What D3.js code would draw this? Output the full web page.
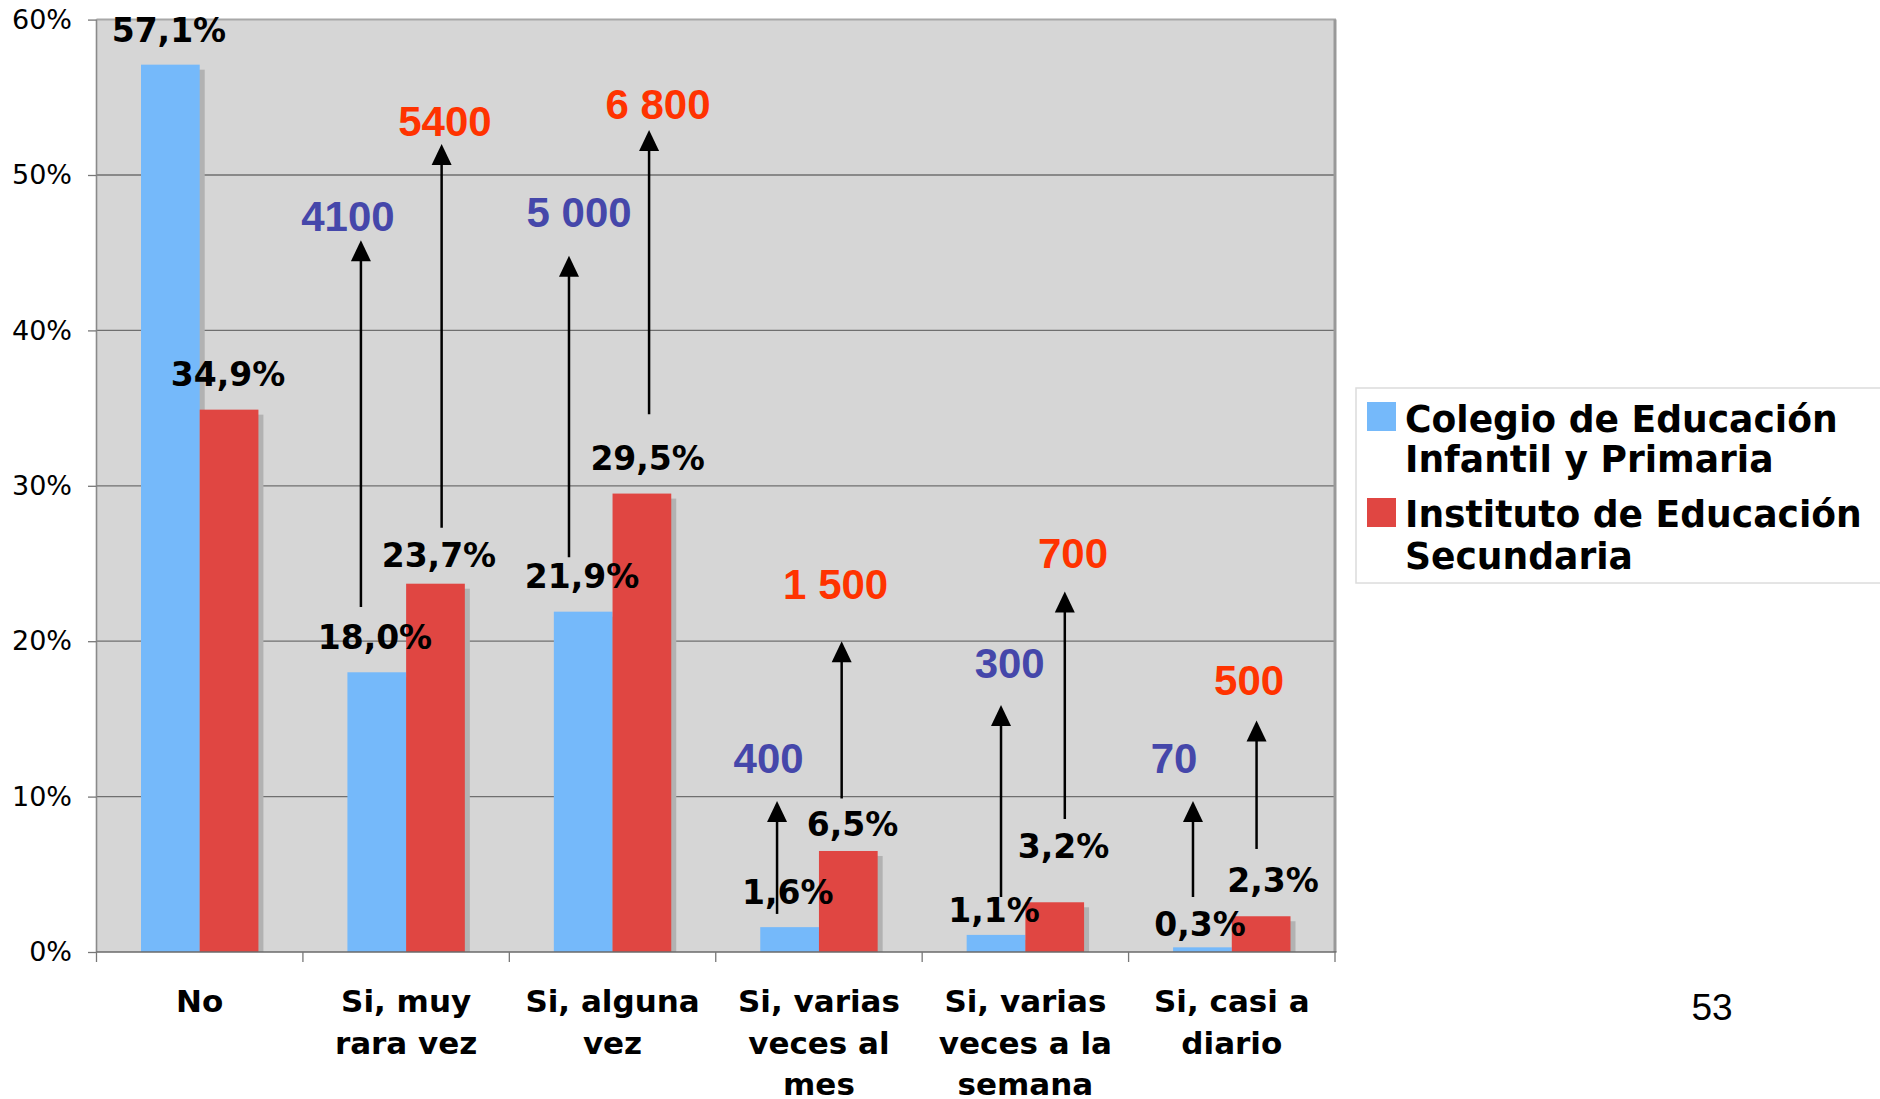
<!DOCTYPE html>
<html>
<head>
<meta charset="utf-8">
<script src="https://cdn.jsdelivr.net/npm/d3@7"></script>
<style>
  html, body { margin: 0; padding: 0; background: #ffffff; }
  svg { display: block; }
</style>
</head>
<body>
<svg id="chart" width="1880" height="1099"></svg>
<script>
// ---------------- DATA ----------------
const categories = [
  ["No"],
  ["Si, muy", "rara vez"],
  ["Si, alguna", "vez"],
  ["Si, varias", "veces al", "mes"],
  ["Si, varias", "veces a la", "semana"],
  ["Si, casi a", "diario"]
];
const seriesNames = [
  ["Colegio de Educación", "Infantil y Primaria"],
  ["Instituto de Educación", "Secundaria"]
];
const colegio   = [57.1, 18.0, 21.9, 1.6, 1.1, 0.3];
const instituto = [34.9, 23.7, 29.5, 6.5, 3.2, 2.3];
const colegioText   = ["57,1%", "18,0%", "21,9%", "1,6%", "1,1%", "0,3%"];
const institutoText = ["34,9%", "23,7%", "29,5%", "6,5%", "3,2%", "2,3%"];
const yTicks = [0, 10, 20, 30, 40, 50, 60];
const yTickLabels = ["0%", "10%", "20%", "30%", "40%", "50%", "60%"];

// Annotation counts (estimated pupils), per category
const colegioCounts   = ["", "4100", "5 000", "400", "300", "70"];
const institutoCounts = ["", "5400", "6 800", "1 500", "700", "500"];

// Annotation anchors in data units: [category index + fraction of band, value in %]
const colegioLabelAt   = [[0.351, 58.56], [1.349, 19.5], [2.352, 23.42], [3.349, 3.09], [4.348, 1.93], [5.346, 1.03]];
const institutoLabelAt = [[0.637, 36.42], [1.659, 24.77], [2.670, 31.02], [3.663, 7.46], [4.685, 6.05], [5.700, 3.86]];
// arrows: [x (category units), from %, to %]
const colegioArrows   = [null, [1.281, 22.2, 45.8], [2.289, 25.4, 44.8], [3.297, 2.45, 9.72], [4.382, 3.54, 15.9], [5.312, 3.54, 9.72]];
const institutoArrows = [null, [1.672, 27.3, 52.0], [2.677, 34.6, 52.9], [3.610, 9.88, 20.0], [4.691, 8.56, 23.2], [5.620, 6.63, 14.9]];
// count label centers: [x (category units), y %]
const colegioCountAt   = [null, [1.218, 47.4], [2.338, 47.6], [3.256, 12.5], [4.424, 18.6], [5.220, 12.5]];
const institutoCountAt = [null, [1.688, 53.5], [2.720, 54.6], [3.581, 23.7], [4.731, 25.7], [5.584, 17.5]];
const pageNumber = "53";

// ---------------- LAYOUT ----------------
const plot = { left: 96.5, right: 1335, top: 19.6, bottom: 952 };
const colors = { colegio: "#75b9fa", instituto: "#e04642", bg: "#d6d6d6", shadow: "#b2b2b2",
                 blueText: "#4547aa", redText: "#ff3300" };

const svg = d3.select("#chart");

const x = d3.scaleBand()
  .domain(d3.range(categories.length))
  .range([plot.left, plot.right])
  .paddingInner(0).paddingOuter(0);
const xSub = d3.scaleBand()
  .domain([0, 1])
  .range([0, x.bandwidth()])
  .paddingInner(0).paddingOuter(0.758);
const y = d3.scaleLinear().domain([0, 60]).range([plot.bottom, plot.top]);
// continuous x in category units
const xc = d3.scaleLinear().domain([0, categories.length]).range([plot.left, plot.right]);

// background
svg.append("rect")
  .attr("x", plot.left).attr("y", plot.top)
  .attr("width", plot.right - plot.left).attr("height", plot.bottom - plot.top)
  .attr("fill", colors.bg);

// gridlines
svg.append("g").selectAll("line").data(yTicks.filter(t => t > 0 && t < 60)).join("line")
  .attr("x1", plot.left).attr("x2", plot.right)
  .attr("y1", d => y(d)).attr("y2", d => y(d))
  .attr("stroke", "#6f6f6f").attr("stroke-width", 1.3);

// frame (top, right lighter; left darker)
svg.append("line").attr("x1", plot.left).attr("x2", plot.right + 1).attr("y1", plot.top).attr("y2", plot.top)
  .attr("stroke", "#a8a8a8").attr("stroke-width", 2);
svg.append("line").attr("x1", plot.right).attr("x2", plot.right).attr("y1", plot.top).attr("y2", plot.bottom)
  .attr("stroke", "#999999").attr("stroke-width", 3);
svg.append("line").attr("x1", plot.left).attr("x2", plot.left).attr("y1", plot.top).attr("y2", plot.bottom)
  .attr("stroke", "#8a8a8a").attr("stroke-width", 1.6);

const series = [
  { key: "colegio", values: colegio, color: colors.colegio, text: colegioText, labelAt: colegioLabelAt },
  { key: "instituto", values: instituto, color: colors.instituto, text: institutoText, labelAt: institutoLabelAt }
];

// shadows
series.forEach((s, si) => {
  svg.append("g").selectAll("rect").data(s.values).join("rect")
    .attr("x", (d, i) => x(i) + xSub(si) + 5)
    .attr("y", d => y(d) + 5)
    .attr("width", xSub.bandwidth())
    .attr("height", d => Math.max(0, plot.bottom - y(d) - 5))
    .attr("fill", colors.shadow);
});
// bars
series.forEach((s, si) => {
  svg.append("g").selectAll("rect").data(s.values).join("rect")
    .attr("x", (d, i) => x(i) + xSub(si))
    .attr("y", d => y(d))
    .attr("width", xSub.bandwidth())
    .attr("height", d => plot.bottom - y(d))
    .attr("fill", s.color);
});

// y axis
const yAxis = d3.axisLeft(y).tickValues(yTicks).tickFormat((d, i) => yTickLabels[i]).tickSize(8.5).tickPadding(16);
const gy = svg.append("g").attr("transform", `translate(${plot.left},0)`).call(yAxis);
gy.select(".domain").remove();
gy.selectAll(".tick line").attr("stroke", "#777").attr("stroke-width", 1.3);
gy.selectAll(".tick text").attr("font-family", "'DejaVu Sans', Verdana, sans-serif")
  .attr("font-size", 27).attr("fill", "#000");

// x axis line + ticks at boundaries
svg.append("line").attr("x1", plot.left).attr("x2", plot.right + 1.5).attr("y1", plot.bottom).attr("y2", plot.bottom)
  .attr("stroke", "#6a6a6a").attr("stroke-width", 1.6);
svg.append("g").selectAll("line").data(d3.range(categories.length + 1)).join("line")
  .attr("x1", d => xc(d)).attr("x2", d => xc(d))
  .attr("y1", plot.bottom).attr("y2", plot.bottom + 10)
  .attr("stroke", "#777").attr("stroke-width", 1.3);

// category labels
const catG = svg.append("g");
categories.forEach((lines, i) => {
  const cx = x(i) + x.bandwidth() / 2;
  lines.forEach((ln, li) => {
    catG.append("text").attr("x", cx).attr("y", 1012 + li * 41.5)
      .attr("text-anchor", "middle")
      .attr("font-family", "'DejaVu Sans', Verdana, sans-serif")
      .attr("font-weight", "bold").attr("font-size", 31)
      .attr("fill", "#000").text(ln);
  });
});

// percentage labels
series.forEach(s => {
  svg.append("g").selectAll("text").data(s.text).join("text")
    .attr("x", (d, i) => xc(s.labelAt[i][0]))
    .attr("y", (d, i) => y(s.labelAt[i][1]))
    .attr("text-anchor", "middle")
    .attr("font-family", "'DejaVu Sans', Verdana, sans-serif")
    .attr("font-weight", "bold").attr("font-size", 33)
    .attr("fill", "#000").text(d => d);
});

// arrows
const arrowG = svg.append("g");
function drawArrow(a) {
  if (!a) return;
  const ax = xc(a[0]), y0 = y(a[1]), y1 = y(a[2]);
  arrowG.append("line").attr("x1", ax).attr("x2", ax).attr("y1", y0).attr("y2", y1 + 18)
    .attr("stroke", "#000").attr("stroke-width", 2.5);
  arrowG.append("path")
    .attr("d", `M${ax},${y1} L${ax - 10},${y1 + 21} L${ax + 10},${y1 + 21} Z`)
    .attr("fill", "#000");
}
colegioArrows.forEach(drawArrow);
institutoArrows.forEach(drawArrow);

// count labels
function drawCounts(texts, at, color) {
  svg.append("g").selectAll("text").data(texts).join("text")
    .attr("x", (d, i) => xc(at[i + 1][0]))
    .attr("y", (d, i) => y(at[i + 1][1]))
    .attr("dy", "0.36em")
    .attr("text-anchor", "middle")
    .attr("font-family", "'Liberation Sans', Arial, sans-serif")
    .attr("font-weight", "bold").attr("font-size", 42)
    .attr("fill", color).text(d => d);
}
drawCounts(colegioCounts.slice(1), colegioCountAt, colors.blueText);
drawCounts(institutoCounts.slice(1), institutoCountAt, colors.redText);

// legend
const lg = svg.append("g");
lg.append("rect").attr("x", 1356).attr("y", 388).attr("width", 530).attr("height", 195)
  .attr("fill", "#fff").attr("stroke", "#dcdcdc").attr("stroke-width", 1.5);
const legendColors = [colors.colegio, colors.instituto];
const legendSwatchY = [402, 498];
const legendBase = [[432, 472], [527, 569]];
seriesNames.forEach((lines, si) => {
  lg.append("rect").attr("x", 1367).attr("y", legendSwatchY[si]).attr("width", 29).attr("height", 29)
    .attr("fill", legendColors[si]);
  const tg = lg.append("g").attr("transform", `translate(1405,0) scale(0.95,1)`);
  lines.forEach((ln, li) => {
    tg.append("text").attr("x", 0).attr("y", legendBase[si][li])
      .attr("font-family", "'DejaVu Sans', Verdana, sans-serif")
      .attr("font-weight", "bold").attr("font-size", 38)
      .attr("fill", "#000").text(ln);
  });
});

// page number
svg.append("text").attr("x", 1712).attr("y", 1020).attr("text-anchor", "middle")
  .attr("font-family", "'Liberation Sans', Arial, sans-serif")
  .attr("font-size", 37).attr("fill", "#000").text(pageNumber);
</script>
</body>
</html>
